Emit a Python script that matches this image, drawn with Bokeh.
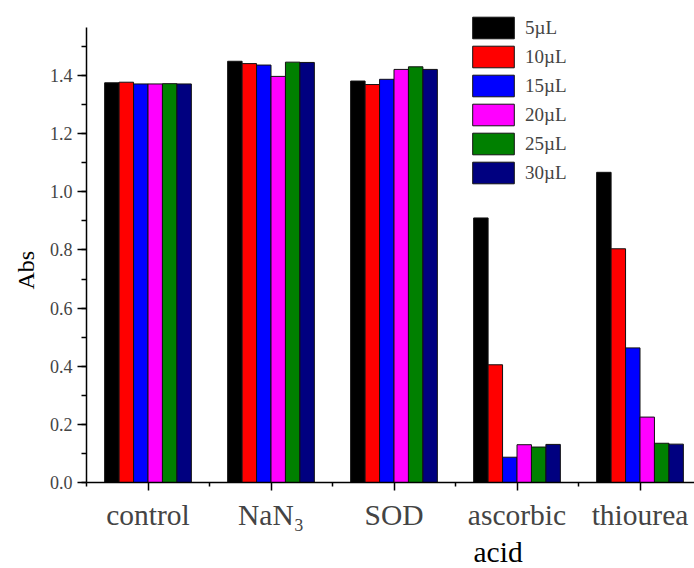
from bokeh.plotting import figure
from bokeh.models import (ColumnDataSource, Range1d, FixedTicker, SingleIntervalTicker,
                          Legend, LegendItem, Title, PrintfTickFormatter)
from bokeh.transform import dodge
from bokeh.embed import file_html
from bokeh.resources import INLINE

# ---------------- data ----------------
categories = ["control", "NaN\u2083", "SOD", "ascorbic", "thiourea"]
category_second_line = ["", "", "", "acid", ""]
volumes = ["5\u00b5L", "10\u00b5L", "15\u00b5L", "20\u00b5L", "25\u00b5L", "30\u00b5L"]
abs_5 = [1.375, 1.449, 1.381, 0.910, 1.067]
abs_10 = [1.377, 1.441, 1.369, 0.405, 0.804]
abs_15 = [1.371, 1.436, 1.387, 0.087, 0.463]
abs_20 = [1.371, 1.397, 1.421, 0.130, 0.225]
abs_25 = [1.372, 1.446, 1.430, 0.122, 0.135]
abs_30 = [1.371, 1.445, 1.421, 0.131, 0.132]
series = [abs_5, abs_10, abs_15, abs_20, abs_25, abs_30]
colors = ["#000000", "#FF0000", "#0000FF", "#FF00FF", "#008000", "#000080"]
y_axis_top = 1.565

FONT = "Liberation Serif"

# ---------------- figure ----------------
W, H = 694, 568
frame_left, frame_bottom = 86, 86
px_per_unit = 290.7
cat_px = 123.0
p = figure(width=W, height=H, output_backend="svg", toolbar_location=None,
           x_range=Range1d(0, (W - frame_left) / cat_px),
           y_range=Range1d(0, (H - frame_bottom) / px_per_unit),
           min_border_left=frame_left, min_border_right=0,
           min_border_top=0, min_border_bottom=frame_bottom)
p.outline_line_color = None
p.xgrid.visible = False
p.ygrid.visible = False
p.background_fill_color = "white"
p.border_fill_color = "white"

centers = [k + 0.5 for k in range(len(categories))]
data = {"x": centers}
for i, s in enumerate(series):
    data["s%d" % i] = s
src = ColumnDataSource(data)

bar_w = 0.1175
items = []
for i, s in enumerate(series):
    off = -3 * bar_w + bar_w * (i + 0.5)
    r = p.vbar(x=dodge("x", off, range=p.x_range), top="s%d" % i, width=bar_w,
               source=src, fill_color=colors[i], line_color="#111111", line_width=1)
    items.append(LegendItem(label=volumes[i], renderers=[r]))

# ---------------- axes ----------------
xa = p.xaxis[0]
xa.ticker = FixedTicker(ticks=centers, minor_ticks=list(range(len(categories) + 1)))
xa.major_label_overrides = {c: lab for c, lab in zip(centers, categories)}
xa.major_label_text_font = FONT
xa.major_label_text_font_size = "29.5px"
xa.major_label_standoff = 8
xa.major_tick_out = 8
xa.major_tick_in = 0
xa.minor_tick_out = 4
xa.minor_tick_in = 0
xa.axis_line_width = 1.5
xa.major_tick_line_width = 1.5
xa.minor_tick_line_width = 1.5

ya = p.yaxis[0]
ya.bounds = (0, y_axis_top)
ya.ticker = SingleIntervalTicker(interval=0.2, num_minor_ticks=2)
ya.formatter = PrintfTickFormatter(format="%.1f")
ya.major_label_text_font = FONT
ya.major_label_text_font_size = "18px"
ya.major_label_standoff = 5
ya.major_tick_out = 9
ya.major_tick_in = 0
ya.minor_tick_out = 5
ya.minor_tick_in = 0
ya.axis_line_width = 1.5
ya.major_tick_line_width = 1.5
ya.minor_tick_line_width = 1.5

# second line of the wrapped category label
for k, extra in enumerate(category_second_line):
    if extra:
        p.add_layout(Title(text=extra, align="left", offset=387, standoff=0,
                           text_font=FONT, text_font_size="29.5px",
                           text_font_style="normal", text_color="black"), "below")

# y axis title
p.add_layout(Title(text="Abs", align="left", offset=193, standoff=15,
                   text_font=FONT, text_font_size="24px",
                   text_font_style="normal", text_color="black"), "left")

# ---------------- legend ----------------
legend = Legend(items=items, location=(381, 296), orientation="vertical",
                glyph_width=52, glyph_height=27, label_height=27, spacing=2,
                padding=0, margin=0, label_standoff=6,
                label_text_font=FONT, label_text_font_size="19px",
                border_line_color=None, background_fill_alpha=0)
p.add_layout(legend)

open("out.html", "w").write(file_html(p, INLINE))
